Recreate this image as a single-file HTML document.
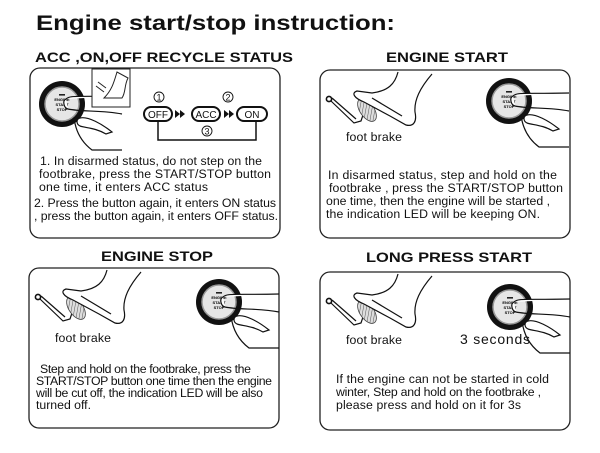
<!DOCTYPE html>
<html><head><meta charset="utf-8"><style>
html,body{margin:0;padding:0;background:#fff;}
svg{display:block;font-family:"Liberation Sans",Arial,sans-serif;}
</style></head><body>
<svg width="600" height="453" viewBox="0 0 600 453" xmlns="http://www.w3.org/2000/svg">
<defs>
<pattern id="hatch" width="3" height="3" patternUnits="userSpaceOnUse" patternTransform="rotate(45)">
<rect width="3" height="3" fill="#ddd"/><line x1="0" y1="0" x2="0" y2="3" stroke="#555" stroke-width="1"/>
</pattern>
<g id="foot" fill="none" stroke="#111" stroke-width="1.2">
<circle cx="9" cy="29" r="2.6" stroke-width="1.6"/>
<path d="M11,31 L34,53 L41,51 L43,45"/>
<path d="M12,28 L36,49"/>
<ellipse cx="47" cy="40" rx="7" ry="13" transform="rotate(-35 47 40)" fill="url(#hatch)" stroke="#444" stroke-width="0.8"/>
<path d="M78,2 C75,14 68,21 52,23 L37,21 C31,23 34,28 44,32 L70,46 L86,55 C94,57 97,51 95,42 C94,30 100,18 112,4" fill="#fff"/>
<path d="M52,28 L82,46"/>
</g>
<g id="btn">
<circle cx="0" cy="0" r="23" fill="#111"/>
<circle cx="0" cy="0" r="17" fill="#e6e6e6" stroke="#999" stroke-width="1.5"/>
<rect x="-3" y="-10" width="6" height="1.6" fill="#222"/>
<text x="0" y="-3" font-size="4" text-anchor="middle" font-weight="bold">ENGINE</text>
<text x="0" y="2" font-size="4" text-anchor="middle" font-weight="bold">START</text>
<text x="0" y="7" font-size="4" text-anchor="middle" font-weight="bold">STOP</text>
<path d="M4,-5 C8,-9 14,-7 60,-8 M6,5 C20,8 40,6 60,10 M4,-5 C0,-3 2,4 6,5" fill="#fff" stroke="#111" stroke-width="1.2"/>
<path d="M18,14 C26,12 40,20 50,28 L44,30 C34,24 24,24 18,22 C14,20 14,15 18,14 Z" fill="#fff" stroke="#111" stroke-width="1.2"/>
<path d="M12,14 C14,30 22,40 30,46 L60,46" fill="none" stroke="#111" stroke-width="1.2"/>
</g>
</defs>

<text x="36" y="30" font-size="21" font-weight="bold" fill="#111" textLength="359" lengthAdjust="spacingAndGlyphs">Engine start/stop  instruction:</text>

<text x="35" y="62" font-size="14" font-weight="bold" fill="#111" textLength="258" lengthAdjust="spacingAndGlyphs">ACC ,ON,OFF RECYCLE STATUS</text>
<text x="386" y="62" font-size="14" font-weight="bold" fill="#111" textLength="122" lengthAdjust="spacingAndGlyphs">ENGINE START</text>
<text x="101" y="261" font-size="14" font-weight="bold" fill="#111" textLength="112" lengthAdjust="spacingAndGlyphs">ENGINE STOP</text>
<text x="366" y="262" font-size="14" font-weight="bold" fill="#111" textLength="166" lengthAdjust="spacingAndGlyphs">LONG PRESS START</text>

<g fill="none" stroke="#222" stroke-width="1.3">
<rect x="30" y="68" width="250" height="170" rx="10"/>
<rect x="320" y="70" width="250" height="168" rx="10"/>
<rect x="29" y="268" width="250" height="160" rx="10"/>
<rect x="320" y="272" width="250" height="158" rx="10"/>
</g>

<use href="#btn" x="62" y="104"/>
<rect x="92" y="69" width="38" height="38" fill="#fff" stroke="#222" stroke-width="1"/>
<path d="M117,72 C114,82 112,90 104,98 L122,98 C126,92 124,86 128,78 Z M96,86 L104,92 M98,82 L106,88" fill="none" stroke="#222" stroke-width="1"/>
<g font-size="9" fill="#111" stroke="#111" stroke-width="1.3">
<circle cx="159" cy="97" r="5" fill="#fff" stroke-width="0.9"/><text x="159" y="100.5" text-anchor="middle" stroke="none">1</text>
<circle cx="228" cy="97" r="5" fill="#fff" stroke-width="0.9"/><text x="228" y="100.5" text-anchor="middle" stroke="none">2</text>
<circle cx="207" cy="131" r="5" fill="#fff" stroke-width="0.9"/><text x="207" y="134.5" text-anchor="middle" stroke="none">3</text>
<rect x="144" y="107" width="28" height="14" rx="7" fill="#fff" stroke-width="2"/><text x="158" y="118" text-anchor="middle" stroke="none" font-size="10">OFF</text>
<rect x="192" y="107" width="28" height="14" rx="7" fill="#fff" stroke-width="2"/><text x="206" y="118" text-anchor="middle" stroke="none" font-size="10">ACC</text>
<rect x="237" y="107" width="30" height="14" rx="7" fill="#fff" stroke-width="2"/><text x="252" y="118" text-anchor="middle" stroke="none" font-size="10">ON</text>
<path d="M175,110 L180,114 L175,118 Z M180,110 L185,114 L180,118 Z M224,110 L229,114 L224,118 Z M229,110 L234,114 L229,118 Z" stroke="none"/>
<path d="M158,121 L158,140 L256,140 L256,121" fill="none" stroke-width="1.5"/>
</g>
<g font-size="12.3" fill="#111" lengthAdjust="spacingAndGlyphs">
<text x="40" y="165" textLength="222">1. In disarmed status, do not step on the</text>
<text x="39" y="178" textLength="232">footbrake, press the START/STOP button</text>
<text x="39" y="191" textLength="169">one time, it enters ACC  status</text>
<text x="34" y="207" textLength="242">2. Press the button again, it enters ON status</text>
<text x="34" y="220" textLength="244">, press the button again, it enters OFF status.</text>
</g>

<use href="#foot" x="320" y="70"/>
<use href="#btn" x="509" y="101"/>
<g font-size="12.3" fill="#111">
<text x="346" y="141" textLength="56">foot brake</text>
<text x="328" y="179" textLength="229">In disarmed status, step and  hold on the</text>
<text x="329" y="192" textLength="234">footbrake , press the START/STOP button</text>
<text x="326" y="205" textLength="224">one time, then the engine will be started ,</text>
<text x="326" y="218" textLength="214">the indication LED will be keeping ON.</text>
</g>

<use href="#foot" x="29" y="268"/>
<use href="#btn" x="219" y="302"/>
<g font-size="12.3" fill="#111">
<text x="55" y="342" textLength="56">foot brake</text>
<text x="40" y="373" textLength="211">Step and hold on the footbrake, press the</text>
<text x="36" y="385" textLength="236">START/STOP button one time then the engine</text>
<text x="36" y="397" textLength="227">will be cut off, the indication LED will be also</text>
<text x="36" y="409" textLength="55">turned  off.</text>
</g>

<use href="#foot" x="320" y="272"/>
<use href="#btn" x="510" y="307"/>
<g font-size="12.3" fill="#111">
<text x="346" y="344" textLength="56">foot brake</text>
<text x="460" y="344" font-size="14" textLength="70">3  seconds</text>
<text x="336" y="383" textLength="213">If the engine can not be started in cold</text>
<text x="336" y="396" textLength="205">winter, Step and hold on the footbrake ,</text>
<text x="336" y="409" textLength="185">please press and hold on it for 3s</text>
</g>
</svg>
</body></html>
